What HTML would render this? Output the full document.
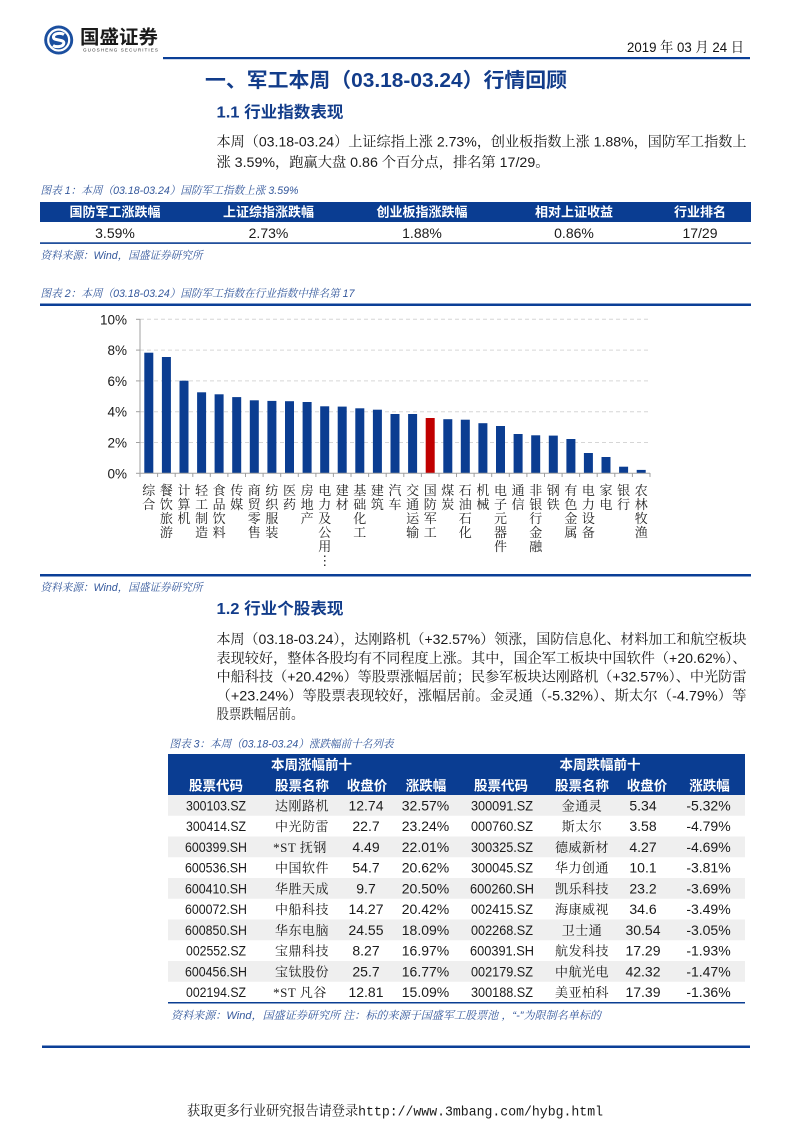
<!DOCTYPE html>
<html><head><meta charset="utf-8"><style>
html,body{margin:0;padding:0;background:#fff;}
svg{display:block;}
.s{font-family:"Liberation Sans","Noto Serif CJK SC",serif;}
.b{font-family:"Liberation Sans","Noto Sans CJK SC",sans-serif;font-weight:bold;}
.c{font-family:"Liberation Sans","Noto Serif CJK SC",serif;font-style:italic;}
.lab{font-family:"Liberation Serif","Noto Serif CJK SC",serif;}
</style></head><body>
<svg width="793" height="1122" viewBox="0 0 793 1122" xmlns="http://www.w3.org/2000/svg">
<rect width="793" height="1122" fill="#fff"/>
<!-- header logo -->
<circle cx="58.7" cy="40" r="14.5" fill="#1b4f9f"/>
<circle cx="58.7" cy="40" r="10.5" fill="none" stroke="#fff" stroke-width="2.2"/>
<path d="M64 34.5 C61 32.5 53 33 53.5 37.5 C54 41 64 39 63.8 43 C63.5 47 56 47.5 53 45.5" fill="none" stroke="#fff" stroke-width="3"/>
<text x="80" y="43.6" class="b" font-size="19" fill="#1a1a1a" textLength="78" lengthAdjust="spacingAndGlyphs">国盛证券</text>
<text x="83" y="51.5" font-family="Liberation Sans,sans-serif" font-size="4.6" fill="#333" textLength="75" lengthAdjust="spacing">GUOSHENG SECURITIES</text>
<text x="627" y="52" class="s" font-size="14" fill="#111" textLength="117" lengthAdjust="spacingAndGlyphs">2019 年 03 月 24 日</text>
<rect x="163" y="57" width="587" height="2.2" fill="#0b3f97"/>

<!-- title -->
<text x="205" y="87" class="b" font-size="20" fill="#123c8a" textLength="362" lengthAdjust="spacingAndGlyphs">一、军工本周（03.18-03.24）行情回顾</text>
<text x="216.5" y="117.5" class="b" font-size="16" fill="#123c8a" textLength="127" lengthAdjust="spacingAndGlyphs">1.1 行业指数表现</text>
<text x="216.5" y="146.5" class="s" font-size="14" fill="#1a1a1a" textLength="530" lengthAdjust="spacingAndGlyphs">本周（03.18-03.24）上证综指上涨 2.73%，创业板指数上涨 1.88%，国防军工指数上</text>
<text x="216.5" y="167" class="s" font-size="14" fill="#1a1a1a" textLength="333" lengthAdjust="spacingAndGlyphs">涨 3.59%，跑赢大盘 0.86 个百分点，排名第 17/29。</text>

<!-- table 1 -->
<text x="40.5" y="194" class="c" font-size="11" fill="#34589c" textLength="258" lengthAdjust="spacingAndGlyphs">图表 1：本周（03.18-03.24）国防军工指数上涨 3.59%</text>
<rect x="40" y="202" width="711" height="20" fill="#0a3d92"/>
<g class="b" font-size="13" fill="#fff" text-anchor="middle">
<text x="115" y="216.5">国防军工涨跌幅</text>
<text x="268.5" y="216.5">上证综指涨跌幅</text>
<text x="422" y="216.5">创业板指涨跌幅</text>
<text x="574" y="216.5">相对上证收益</text>
<text x="700" y="216.5">行业排名</text>
</g>
<g class="s" font-size="14" fill="#1a1a1a" text-anchor="middle">
<text x="115" y="238">3.59%</text>
<text x="268.5" y="238">2.73%</text>
<text x="422" y="238">1.88%</text>
<text x="574" y="238">0.86%</text>
<text x="700" y="238">17/29</text>
</g>
<rect x="40" y="242.3" width="711" height="1.6" fill="#0a3d92"/>
<text x="40.5" y="259" class="c" font-size="11" fill="#34589c" textLength="162" lengthAdjust="spacingAndGlyphs">资料来源：Wind，国盛证券研究所</text>

<!-- chart -->
<text x="40.5" y="297" class="c" font-size="11" fill="#34589c" textLength="314" lengthAdjust="spacingAndGlyphs">图表 2：本周（03.18-03.24）国防军工指数在行业指数中排名第 17</text>
<rect x="40" y="303.5" width="711" height="2.5" fill="#0b3f97"/>
<rect x="40" y="574" width="711" height="2.5" fill="#0b3f97"/>
<g stroke="#d6d6d6" stroke-width="1" stroke-dasharray="4,3">
<line x1="140" y1="319.3" x2="650" y2="319.3"/>
<line x1="140" y1="350.1" x2="650" y2="350.1"/>
<line x1="140" y1="380.9" x2="650" y2="380.9"/>
<line x1="140" y1="411.7" x2="650" y2="411.7"/>
<line x1="140" y1="442.5" x2="650" y2="442.5"/>
</g>
<g class="s" font-size="13.5" fill="#1a1a1a" text-anchor="end">
<text x="127" y="324.3">10%</text>
<text x="127" y="355.1">8%</text>
<text x="127" y="385.9">6%</text>
<text x="127" y="416.7">4%</text>
<text x="127" y="447.5">2%</text>
<text x="127" y="478.3">0%</text>
</g>
<g fill="#0b3d91">
<rect x="144.3" y="352.7" width="9" height="120.6"/>
<rect x="161.9" y="357.0" width="9" height="116.3"/>
<rect x="179.5" y="380.7" width="9" height="92.6"/>
<rect x="197.1" y="392.3" width="9" height="81.0"/>
<rect x="214.6" y="394.3" width="9" height="79.0"/>
<rect x="232.2" y="397.1" width="9" height="76.2"/>
<rect x="249.8" y="400.3" width="9" height="73.0"/>
<rect x="267.4" y="400.9" width="9" height="72.4"/>
<rect x="285.0" y="401.2" width="9" height="72.1"/>
<rect x="302.6" y="402.0" width="9" height="71.3"/>
<rect x="320.2" y="406.3" width="9" height="67.0"/>
<rect x="337.7" y="406.6" width="9" height="66.7"/>
<rect x="355.3" y="408.3" width="9" height="65.0"/>
<rect x="372.9" y="409.7" width="9" height="63.6"/>
<rect x="390.5" y="414.0" width="9" height="59.3"/>
<rect x="408.1" y="414.0" width="9" height="59.3"/>
<rect x="443.3" y="419.2" width="9" height="54.1"/>
<rect x="460.8" y="419.7" width="9" height="53.6"/>
<rect x="478.4" y="423.2" width="9" height="50.1"/>
<rect x="496.0" y="426.0" width="9" height="47.3"/>
<rect x="513.6" y="434.0" width="9" height="39.3"/>
<rect x="531.2" y="435.3" width="9" height="38.0"/>
<rect x="548.8" y="435.6" width="9" height="37.7"/>
<rect x="566.4" y="439.0" width="9" height="34.3"/>
<rect x="583.9" y="453.0" width="9" height="20.3"/>
<rect x="601.5" y="457.0" width="9" height="16.3"/>
<rect x="619.1" y="466.7" width="9" height="6.6"/>
<rect x="636.7" y="469.9" width="9" height="3.4"/>
</g>
<rect x="425.7" y="418.0" width="9" height="55.3" fill="#c00000"/>
<g stroke="#a0a0a0" stroke-width="1">
<line x1="140" y1="319" x2="140" y2="473.3"/>
<line x1="140" y1="473.3" x2="650" y2="473.3"/>
<line x1="136" y1="319.3" x2="140" y2="319.3"/>
<line x1="136" y1="350.1" x2="140" y2="350.1"/>
<line x1="136" y1="380.9" x2="140" y2="380.9"/>
<line x1="136" y1="411.7" x2="140" y2="411.7"/>
<line x1="136" y1="442.5" x2="140" y2="442.5"/>
<line x1="136" y1="473.3" x2="140" y2="473.3"/>
<path d="M140 473v4M157.6 473v4M175.2 473v4M192.8 473v4M210.3 473v4M227.9 473v4M245.5 473v4M263.1 473v4M280.7 473v4M298.3 473v4M315.9 473v4M333.4 473v4M351.0 473v4M368.6 473v4M386.2 473v4M403.8 473v4M421.4 473v4M439.0 473v4M456.5 473v4M474.1 473v4M491.7 473v4M509.3 473v4M526.9 473v4M544.5 473v4M562.1 473v4M579.6 473v4M597.2 473v4M614.8 473v4M632.4 473v4M650 473v4"/>
</g>
<g class="lab" font-size="13" fill="#222" text-anchor="middle">
<text><tspan x="148.8" y="495">综</tspan><tspan x="148.8" y="509">合</tspan></text>
<text><tspan x="166.4" y="495">餐</tspan><tspan x="166.4" y="509">饮</tspan><tspan x="166.4" y="523">旅</tspan><tspan x="166.4" y="537">游</tspan></text>
<text><tspan x="184.0" y="495">计</tspan><tspan x="184.0" y="509">算</tspan><tspan x="184.0" y="523">机</tspan></text>
<text><tspan x="201.6" y="495">轻</tspan><tspan x="201.6" y="509">工</tspan><tspan x="201.6" y="523">制</tspan><tspan x="201.6" y="537">造</tspan></text>
<text><tspan x="219.1" y="495">食</tspan><tspan x="219.1" y="509">品</tspan><tspan x="219.1" y="523">饮</tspan><tspan x="219.1" y="537">料</tspan></text>
<text><tspan x="236.7" y="495">传</tspan><tspan x="236.7" y="509">媒</tspan></text>
<text><tspan x="254.3" y="495">商</tspan><tspan x="254.3" y="509">贸</tspan><tspan x="254.3" y="523">零</tspan><tspan x="254.3" y="537">售</tspan></text>
<text><tspan x="271.9" y="495">纺</tspan><tspan x="271.9" y="509">织</tspan><tspan x="271.9" y="523">服</tspan><tspan x="271.9" y="537">装</tspan></text>
<text><tspan x="289.5" y="495">医</tspan><tspan x="289.5" y="509">药</tspan></text>
<text><tspan x="307.1" y="495">房</tspan><tspan x="307.1" y="509">地</tspan><tspan x="307.1" y="523">产</tspan></text>
<text><tspan x="324.7" y="495">电</tspan><tspan x="324.7" y="509">力</tspan><tspan x="324.7" y="523">及</tspan><tspan x="324.7" y="537">公</tspan><tspan x="324.7" y="551">用</tspan><tspan x="324.7" y="565">⋮</tspan></text>
<text><tspan x="342.2" y="495">建</tspan><tspan x="342.2" y="509">材</tspan></text>
<text><tspan x="359.8" y="495">基</tspan><tspan x="359.8" y="509">础</tspan><tspan x="359.8" y="523">化</tspan><tspan x="359.8" y="537">工</tspan></text>
<text><tspan x="377.4" y="495">建</tspan><tspan x="377.4" y="509">筑</tspan></text>
<text><tspan x="395.0" y="495">汽</tspan><tspan x="395.0" y="509">车</tspan></text>
<text><tspan x="412.6" y="495">交</tspan><tspan x="412.6" y="509">通</tspan><tspan x="412.6" y="523">运</tspan><tspan x="412.6" y="537">输</tspan></text>
<text><tspan x="430.2" y="495">国</tspan><tspan x="430.2" y="509">防</tspan><tspan x="430.2" y="523">军</tspan><tspan x="430.2" y="537">工</tspan></text>
<text><tspan x="447.8" y="495">煤</tspan><tspan x="447.8" y="509">炭</tspan></text>
<text><tspan x="465.3" y="495">石</tspan><tspan x="465.3" y="509">油</tspan><tspan x="465.3" y="523">石</tspan><tspan x="465.3" y="537">化</tspan></text>
<text><tspan x="482.9" y="495">机</tspan><tspan x="482.9" y="509">械</tspan></text>
<text><tspan x="500.5" y="495">电</tspan><tspan x="500.5" y="509">子</tspan><tspan x="500.5" y="523">元</tspan><tspan x="500.5" y="537">器</tspan><tspan x="500.5" y="551">件</tspan></text>
<text><tspan x="518.1" y="495">通</tspan><tspan x="518.1" y="509">信</tspan></text>
<text><tspan x="535.7" y="495">非</tspan><tspan x="535.7" y="509">银</tspan><tspan x="535.7" y="523">行</tspan><tspan x="535.7" y="537">金</tspan><tspan x="535.7" y="551">融</tspan></text>
<text><tspan x="553.3" y="495">钢</tspan><tspan x="553.3" y="509">铁</tspan></text>
<text><tspan x="570.9" y="495">有</tspan><tspan x="570.9" y="509">色</tspan><tspan x="570.9" y="523">金</tspan><tspan x="570.9" y="537">属</tspan></text>
<text><tspan x="588.4" y="495">电</tspan><tspan x="588.4" y="509">力</tspan><tspan x="588.4" y="523">设</tspan><tspan x="588.4" y="537">备</tspan></text>
<text><tspan x="606.0" y="495">家</tspan><tspan x="606.0" y="509">电</tspan></text>
<text><tspan x="623.6" y="495">银</tspan><tspan x="623.6" y="509">行</tspan></text>
<text><tspan x="641.2" y="495">农</tspan><tspan x="641.2" y="509">林</tspan><tspan x="641.2" y="523">牧</tspan><tspan x="641.2" y="537">渔</tspan></text>
</g>
<text x="40.5" y="591" class="c" font-size="11" fill="#34589c" textLength="162" lengthAdjust="spacingAndGlyphs">资料来源：Wind，国盛证券研究所</text>

<!-- section 1.2 -->
<text x="216.5" y="614" class="b" font-size="16" fill="#123c8a" textLength="127" lengthAdjust="spacingAndGlyphs">1.2 行业个股表现</text>
<g class="s" font-size="14" fill="#1a1a1a">
<text x="216.5" y="644" textLength="530" lengthAdjust="spacingAndGlyphs">本周（03.18-03.24），达刚路机（+32.57%）领涨，国防信息化、材料加工和航空板块</text>
<text x="216.5" y="662.8" textLength="530" lengthAdjust="spacingAndGlyphs">表现较好，整体各股均有不同程度上涨。其中，国企军工板块中国软件（+20.62%）、</text>
<text x="216.5" y="681.6" textLength="530" lengthAdjust="spacingAndGlyphs">中船科技（+20.42%）等股票涨幅居前；民参军板块达刚路机（+32.57%）、中光防雷</text>
<text x="216.5" y="700.4" textLength="530" lengthAdjust="spacingAndGlyphs">（+23.24%）等股票表现较好，涨幅居前。金灵通（-5.32%）、斯太尔（-4.79%）等</text>
<text x="216.5" y="719.2" textLength="87" lengthAdjust="spacingAndGlyphs">股票跌幅居前。</text>
</g>

<!-- table 3 -->
<text x="169.5" y="747.5" class="c" font-size="11" fill="#34589c" textLength="224" lengthAdjust="spacingAndGlyphs">图表 3：本周（03.18-03.24）涨跌幅前十名列表</text>
<rect x="168" y="754" width="577" height="41" fill="#0a3d92"/>
<g fill="#efefef">
<rect x="168" y="795" width="577" height="20.75"/>
<rect x="168" y="836.5" width="577" height="20.75"/>
<rect x="168" y="878" width="577" height="20.75"/>
<rect x="168" y="919.5" width="577" height="20.75"/>
<rect x="168" y="961" width="577" height="20.75"/>
</g>
<rect x="168" y="1002" width="577" height="1.5" fill="#0a3d92"/>
<g class="b" font-size="13.5" fill="#fff" text-anchor="middle">
<text x="311.5" y="769.5">本周涨幅前十</text>
<text x="600" y="769.5">本周跌幅前十</text>
<text x="216" y="790.5">股票代码</text>
<text x="302" y="790.5">股票名称</text>
<text x="367" y="790.5">收盘价</text>
<text x="426" y="790.5">涨跌幅</text>
<text x="501" y="790.5">股票代码</text>
<text x="582" y="790.5">股票名称</text>
<text x="647" y="790.5">收盘价</text>
<text x="709.5" y="790.5">涨跌幅</text>
</g>
<g class="s" font-size="14" fill="#1a1a1a" text-anchor="middle">
<text x="216" y="810.4" textLength="60" lengthAdjust="spacingAndGlyphs">300103.SZ</text><text x="366" y="810.4">12.74</text><text x="425.5" y="810.4">32.57%</text><text x="502" y="810.4" textLength="62" lengthAdjust="spacingAndGlyphs">300091.SZ</text><text x="643" y="810.4">5.34</text><text x="708.5" y="810.4">-5.32%</text>
<text x="216" y="831.1" textLength="60" lengthAdjust="spacingAndGlyphs">300414.SZ</text><text x="366" y="831.1">22.7</text><text x="425.5" y="831.1">23.24%</text><text x="502" y="831.1" textLength="62" lengthAdjust="spacingAndGlyphs">000760.SZ</text><text x="643" y="831.1">3.58</text><text x="708.5" y="831.1">-4.79%</text>
<text x="216" y="851.9" textLength="62" lengthAdjust="spacingAndGlyphs">600399.SH</text><text x="366" y="851.9">4.49</text><text x="425.5" y="851.9">22.01%</text><text x="502" y="851.9" textLength="62" lengthAdjust="spacingAndGlyphs">300325.SZ</text><text x="643" y="851.9">4.27</text><text x="708.5" y="851.9">-4.69%</text>
<text x="216" y="872.6" textLength="62" lengthAdjust="spacingAndGlyphs">600536.SH</text><text x="366" y="872.6">54.7</text><text x="425.5" y="872.6">20.62%</text><text x="502" y="872.6" textLength="62" lengthAdjust="spacingAndGlyphs">300045.SZ</text><text x="643" y="872.6">10.1</text><text x="708.5" y="872.6">-3.81%</text>
<text x="216" y="893.4" textLength="62" lengthAdjust="spacingAndGlyphs">600410.SH</text><text x="366" y="893.4">9.7</text><text x="425.5" y="893.4">20.50%</text><text x="502" y="893.4" textLength="64" lengthAdjust="spacingAndGlyphs">600260.SH</text><text x="643" y="893.4">23.2</text><text x="708.5" y="893.4">-3.69%</text>
<text x="216" y="914.1" textLength="62" lengthAdjust="spacingAndGlyphs">600072.SH</text><text x="366" y="914.1">14.27</text><text x="425.5" y="914.1">20.42%</text><text x="502" y="914.1" textLength="62" lengthAdjust="spacingAndGlyphs">002415.SZ</text><text x="643" y="914.1">34.6</text><text x="708.5" y="914.1">-3.49%</text>
<text x="216" y="934.9" textLength="62" lengthAdjust="spacingAndGlyphs">600850.SH</text><text x="366" y="934.9">24.55</text><text x="425.5" y="934.9">18.09%</text><text x="502" y="934.9" textLength="62" lengthAdjust="spacingAndGlyphs">002268.SZ</text><text x="643" y="934.9">30.54</text><text x="708.5" y="934.9">-3.05%</text>
<text x="216" y="955.6" textLength="60" lengthAdjust="spacingAndGlyphs">002552.SZ</text><text x="366" y="955.6">8.27</text><text x="425.5" y="955.6">16.97%</text><text x="502" y="955.6" textLength="64" lengthAdjust="spacingAndGlyphs">600391.SH</text><text x="643" y="955.6">17.29</text><text x="708.5" y="955.6">-1.93%</text>
<text x="216" y="976.4" textLength="62" lengthAdjust="spacingAndGlyphs">600456.SH</text><text x="366" y="976.4">25.7</text><text x="425.5" y="976.4">16.77%</text><text x="502" y="976.4" textLength="62" lengthAdjust="spacingAndGlyphs">002179.SZ</text><text x="643" y="976.4">42.32</text><text x="708.5" y="976.4">-1.47%</text>
<text x="216" y="997.1" textLength="60" lengthAdjust="spacingAndGlyphs">002194.SZ</text><text x="366" y="997.1">12.81</text><text x="425.5" y="997.1">15.09%</text><text x="502" y="997.1" textLength="62" lengthAdjust="spacingAndGlyphs">300188.SZ</text><text x="643" y="997.1">17.39</text><text x="708.5" y="997.1">-1.36%</text>
</g>
<g class="lab" font-size="13" fill="#1a1a1a" text-anchor="middle" letter-spacing="0.5">
<text x="302" y="810.4">达刚路机</text><text x="582" y="810.4">金通灵</text>
<text x="302" y="831.1">中光防雷</text><text x="582" y="831.1">斯太尔</text>
<text x="300" y="851.9">*ST 抚钢</text><text x="582" y="851.9">德威新材</text>
<text x="302" y="872.6">中国软件</text><text x="582" y="872.6">华力创通</text>
<text x="302" y="893.4">华胜天成</text><text x="582" y="893.4">凯乐科技</text>
<text x="302" y="914.1">中船科技</text><text x="582" y="914.1">海康威视</text>
<text x="302" y="934.9">华东电脑</text><text x="582" y="934.9">卫士通</text>
<text x="302" y="955.6">宝鼎科技</text><text x="582" y="955.6">航发科技</text>
<text x="302" y="976.4">宝钛股份</text><text x="582" y="976.4">中航光电</text>
<text x="300" y="997.1">*ST 凡谷</text><text x="582" y="997.1">美亚柏科</text>
</g>
<text x="171" y="1019" class="c" font-size="11" fill="#34589c" textLength="430" lengthAdjust="spacingAndGlyphs">资料来源：Wind，国盛证券研究所 注：标的来源于国盛军工股票池 ，“-”为限制名单标的</text>

<!-- footer -->
<rect x="42" y="1045.5" width="708" height="2.5" fill="#0b3f97"/>
<text x="187" y="1115.5" font-family="'Liberation Mono','Noto Serif CJK SC',serif" font-size="14" fill="#1a1a1a" textLength="416" lengthAdjust="spacingAndGlyphs">获取更多行业研究报告请登录http://www.3mbang.com/hybg.html</text>
</svg>
</body></html>
